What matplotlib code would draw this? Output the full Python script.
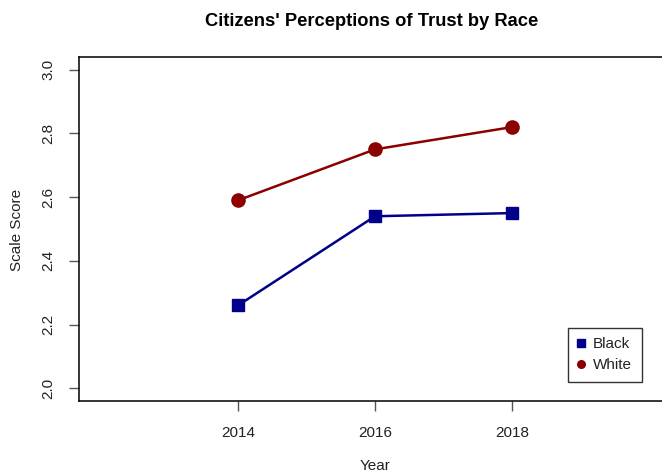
import matplotlib
matplotlib.use('Agg')
import matplotlib.pyplot as plt
from matplotlib.lines import Line2D

years = [2014, 2016, 2018]
black = [2.26, 2.54, 2.55]
white = [2.59, 2.75, 2.82]
y_ticks = [2.0, 2.2, 2.4, 2.6, 2.8, 3.0]

plt.rcParams['font.family'] = ['Liberation Sans', 'DejaVu Sans']

W, H = 662, 472
fig = plt.figure(figsize=(W / 100, H / 100), dpi=100)
# plot box: left 79px, top 57px, bottom 401px, right edge past the image (R style)
ax = fig.add_axes([79 / W, (H - 401) / H, (671 - 79) / W, (401 - 57) / H])

blue = '#00008B'
red = '#8B0000'
ax.plot(years, black, color=blue, lw=1.8, marker='s', ms=9, zorder=3)
ax.plot(years, white, color=red, lw=1.8, marker='o', ms=9.5, zorder=3)

ax.set_xlim(2011.68, 2020.32)
ax.set_ylim(1.96, 3.04)
ax.set_xticks(years)
ax.set_yticks(y_ticks)
ax.set_yticklabels([f'{v:.1f}' for v in y_ticks], rotation=90, va='center')
ax.tick_params(axis='both', length=7, width=1, color='#555555', labelsize=11,
               labelcolor='#222222')
ax.tick_params(axis='x', pad=11)
ax.tick_params(axis='y', pad=10)
for s in ax.spines.values():
    s.set_linewidth(1.1)

fig.text(375 / W, 1 - 466 / H, 'Year', ha='center', va='center', fontsize=11, color='#222222')
fig.text(17 / W, 1 - 230 / H, 'Scale Score', ha='center', va='center', rotation=90,
         fontsize=11, color='#222222')
fig.text(372 / W, 1 - 22 / H, "Citizens' Perceptions of Trust by Race", ha='center',
         va='center', fontsize=13.2, fontweight='bold')

handles = [Line2D([], [], color=blue, marker='s', ls='none', ms=5.5),
           Line2D([], [], color=red, marker='o', ls='none', ms=5.5)]
leg = fig.legend(handles, ['Black', 'White'], loc='upper left',
                 bbox_to_anchor=(568 / W, 1 - 328 / H), bbox_transform=fig.transFigure,
                 fancybox=False, edgecolor='#333333', framealpha=1, fontsize=11,
                 handlelength=0.43, handletextpad=0.6, borderpad=0.62, labelspacing=0.45,
                 borderaxespad=0)
leg.get_frame().set_linewidth(1.0)
for t in leg.get_texts():
    t.set_color('#222222')

fig.savefig('out.png', dpi=100)
